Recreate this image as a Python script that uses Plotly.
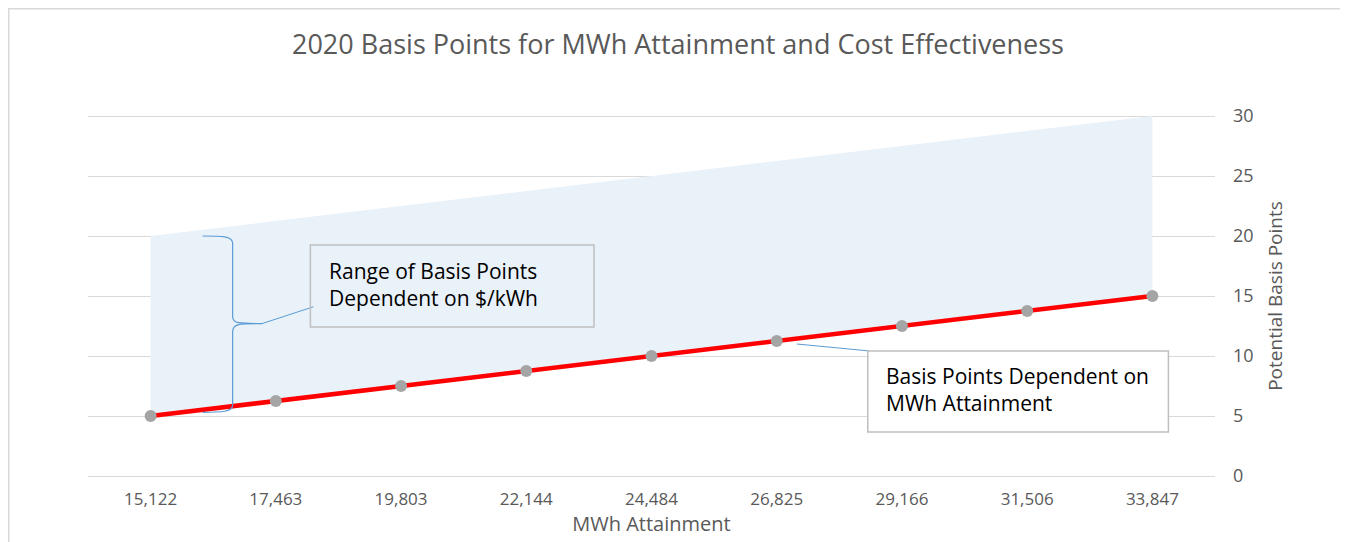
import plotly.graph_objects as go

categories = ["15,122", "17,463", "19,803", "22,144", "24,484", "26,825", "29,166", "31,506", "33,847"]
mwh_basis_points = [5, 6.25, 7.5, 8.75, 10, 11.25, 12.5, 13.75, 15]
max_basis_points = [20, 21.25, 22.5, 23.75, 25, 26.25, 27.5, 28.75, 30]
y_ticks = [0, 5, 10, 15, 20, 25, 30]

FONT = "Open Sans"
GREY_TXT = "#595959"
BLUE = "#5B9BD5"

fig = go.Figure()
fig.add_trace(go.Scatter(x=categories, y=mwh_basis_points, mode="lines",
                         line=dict(width=0, color="rgba(0,0,0,0)"),
                         showlegend=False, hoverinfo="skip"))
fig.add_trace(go.Scatter(x=categories, y=max_basis_points, mode="lines",
                         line=dict(width=0, color="rgba(0,0,0,0)"),
                         fill="tonexty", fillcolor="#E9F1F9",
                         name="Range", showlegend=False))
fig.add_trace(go.Scatter(x=categories, y=mwh_basis_points, mode="lines+markers",
                         line=dict(width=4.5, color="#FF0000"),
                         marker=dict(size=12, color="#A5A5A5"),
                         name="Basis Points", showlegend=False))

shapes = []
# outer chart border (paper coordinates)
shapes.append(dict(type="rect", xref="paper", yref="paper",
                   x0=-0.0703, x1=1.1160, y0=-0.25, y1=1.2849,
                   line=dict(color="#D9D9D9", width=1.5), fillcolor="rgba(0,0,0,0)", layer="below"))
# brace (data coordinates, category index on x)
bx = 0.655
bl = 0.415
bt = 0.89
brace = (f"M {bl},20 C {bl+0.15},20 {bx},20 {bx},19.4 "
         f"L {bx},13.3 C {bx},12.7 {bx+0.05},12.7 {bt},12.7 "
         f"C {bx+0.05},12.7 {bx},12.7 {bx},12.0 "
         f"L {bx},5.9 C {bx},5.35 {bl+0.15},5.3 {bl},5.3 ")
shapes.append(dict(type="path", xref="x", yref="y", path=brace,
                   line=dict(color=BLUE, width=1.2)))
shapes.append(dict(type="line", xref="x", yref="y", x0=bt, y0=12.7, x1=1.3, y1=14.1,
                   line=dict(color=BLUE, width=1)))
shapes.append(dict(type="rect", xref="x", yref="y", x0=1.276, x1=3.541, y0=12.42, y1=19.25,
                   line=dict(color="#BFBFBF", width=1.5), fillcolor="rgba(0,0,0,0)"))
shapes.append(dict(type="line", xref="x", yref="y", x0=5.16, y0=11.0, x1=5.74, y1=10.42,
                   line=dict(color=BLUE, width=1)))
shapes.append(dict(type="rect", xref="x", yref="y", x0=5.727, x1=8.128, y0=3.67, y1=10.42,
                   line=dict(color="#BFBFBF", width=1.5), fillcolor="white"))

annotations = [
    dict(x=1.41, y=16.0, xref="x", yref="y", xanchor="left", yanchor="middle", align="left",
         text="Range of Basis Points<br>Dependent on $/kWh", showarrow=False,
         font=dict(family=FONT, size=21, color="#000000")),
    dict(x=5.86, y=7.25, xref="x", yref="y", xanchor="left", yanchor="middle", align="left",
         text="Basis Points Dependent on<br>MWh Attainment", showarrow=False,
         font=dict(family=FONT, size=21, color="#000000")),
]

fig.update_layout(
    width=1340, height=534,
    margin=dict(l=80, r=133, t=105, b=63),
    paper_bgcolor="white", plot_bgcolor="white",
    font=dict(family=FONT, color=GREY_TXT),
    title=dict(text="2020 Basis Points for MWh Attainment and Cost Effectiveness",
               x=0.5, xanchor="center", y=1 - 37 / 534, yanchor="middle",
               font=dict(family=FONT, size=27, color=GREY_TXT)),
    xaxis=dict(type="category", range=[-0.5, 8.5], showgrid=False, zeroline=False,
               showline=False, ticks="", tickfont=dict(size=17, color=GREY_TXT),
               ticklabelstandoff=8,
               title=dict(text="MWh Attainment", font=dict(size=20, color=GREY_TXT), standoff=4)),
    yaxis=dict(side="right", range=[-0.25, 30.25], tickvals=y_ticks, showgrid=True,
               gridcolor="#D9D9D9", gridwidth=1, zeroline=False, showline=False, ticks="",
               tickfont=dict(size=18, color=GREY_TXT), ticklabelstandoff=17,
               title=dict(text="Potential Basis Points", font=dict(size=19, color=GREY_TXT), standoff=16)),
    shapes=shapes, annotations=annotations,
)

fig.write_html("out.html")
